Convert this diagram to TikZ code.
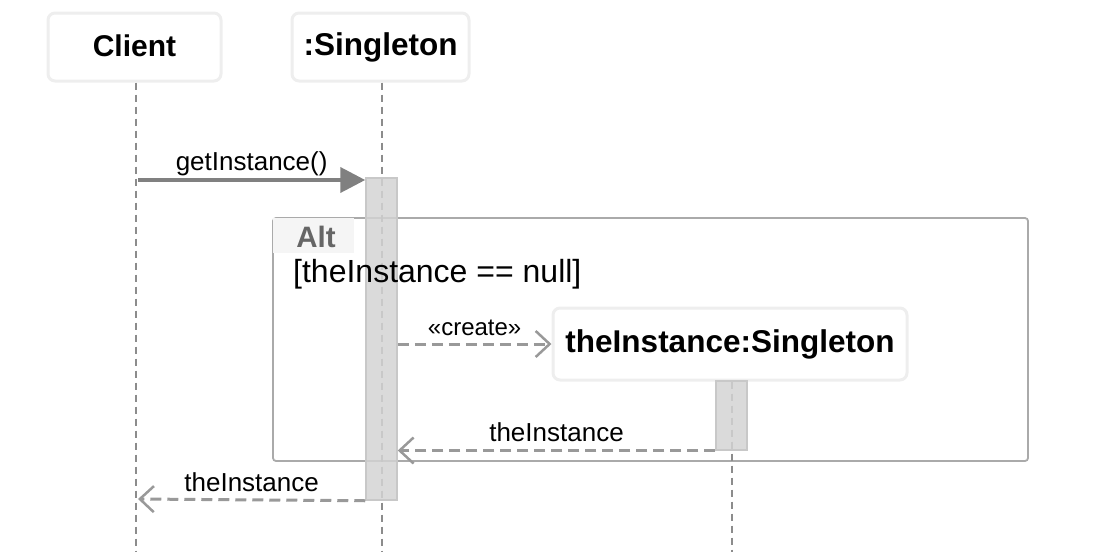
\documentclass[tikz,border=0pt]{standalone}
\usepackage{fontspec}
\setmainfont{Liberation Sans}
\usetikzlibrary{arrows.meta,positioning,calc}
\definecolor{headline}{HTML}{EEEEEE}
\definecolor{lifecol}{HTML}{8C8C8C}
\definecolor{msgcol}{HTML}{808080}
\definecolor{retcol}{HTML}{999999}
\definecolor{barfill}{HTML}{D3D3D3}
\definecolor{barline}{HTML}{C8C8C8}
\definecolor{framecol}{HTML}{AAAAAA}
\definecolor{altbg}{HTML}{F5F5F5}
\definecolor{alttext}{HTML}{666666}

\begin{document}
\begin{tikzpicture}[
  x=1pt,
  y=-1pt,
  head/.style={draw=headline, line width=3pt, rounded corners=7pt, fill=white, inner sep=0pt, font=\fontsize{31.5}{34}\selectfont\bfseries},
  lifeline/.style={draw=lifecol, line width=1.4pt, dash pattern=on 7pt off 5pt},
  actbar/.style={draw=barline, line width=1.5pt, fill=barfill, fill opacity=0.85, minimum width=31pt, inner sep=0pt},
  callmsg/.style={draw=msgcol, line width=4pt, -{Triangle[length=25pt,width=25pt]}},
  retmsg/.style={draw=retcol, line width=3pt, dash pattern=on 11pt off 6pt, -{Straight Barb[length=14pt,width=26pt,line width=2.5pt]}},
  msglabel/.style={font=\fontsize{26}{28}\selectfont, inner sep=0pt, text=black},
  altframe/.style={draw=framecol, line width=1.8pt, rounded corners=3pt, minimum width=755pt, minimum height=243pt, inner sep=0pt},
  every node/.style={text=black}
]
\useasboundingbox (0,0) rectangle (1093,552);

\node[altframe] (alt) at (650.5,339.5) {};
\node[anchor=north west, fill=altbg, minimum width=81pt, minimum height=35pt, inner sep=0pt] (altbox) at ([xshift=1pt,yshift=-1pt]alt.north west) {};
\node[text=alttext, font=\fontsize{29.5}{30}\selectfont\bfseries, inner sep=0pt] (alttag) at (316,237) {Alt};

\node[head, minimum width=173pt, minimum height=68pt, font=\fontsize{30}{34}\selectfont\bfseries] (client) at (134.5,47) {\raisebox{2pt}{Client}};
\node[head, minimum width=177pt, minimum height=68pt] (single) at (380.5,47) {\raisebox{2pt}{:Singleton}};
\node[head, minimum width=354pt, minimum height=72pt] (inst) at (730,344) {theInstance:Singleton};

\coordinate (clientend) at (136,552);
\coordinate (singleend) at (382,552);
\coordinate (instend) at (732,552);
\draw[lifeline] ([xshift=1.5pt]client.south) -- (clientend);
\draw[lifeline] ([xshift=1.5pt]single.south) -- (singleend);
\draw[lifeline] ([xshift=2pt]inst.south) -- (instend);

\node[actbar, minimum height=322pt] (act1) at (381.5,339) {};
\node[actbar, minimum height=69pt, anchor=north] (act2) at (731.5,380) {};

\node[anchor=west, font=\fontsize{32}{34}\selectfont, inner sep=0pt] (guard) at (293,274) {[theInstance == null]};

\coordinate (call) at (138,180);
\draw[callmsg] (call) -- (call -| act1.west) node[msglabel, midway, above=2pt] (calltxt) {getInstance()};

\draw[retmsg] (act1.east |- inst.west) -- (inst.west) node[msglabel, midway, above=7pt, font=\fontsize{24}{26}\selectfont] (createtxt) {«create»};

\draw[retmsg] (act2.south west) -- (act2.south west -| act1.east) node[msglabel, midway, above=7pt] (ret1txt) {theInstance};

\coordinate (back) at (138,499);
\draw[retmsg] (act1.south west) -- (back) node[msglabel, midway, above=7pt] (ret2txt) {theInstance};
\end{tikzpicture}
\end{document}
